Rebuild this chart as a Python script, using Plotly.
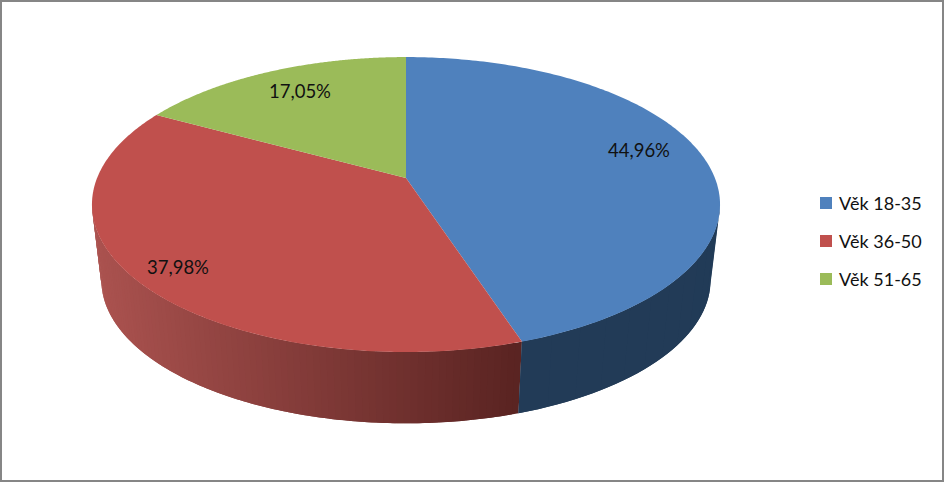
"""
plot.py - age share pie with a tilted 3D look, drawn on a pixel-sized plane with Plotly
"""

import numpy as np
import plotly.graph_objects as go

age_groups = ["Věk 18-35", "Věk 36-50", "Věk 51-65"]
shares = [44.96, 37.98, 17.05]
top_colors = ["#4f81bd", "#c0504d", "#9bbb59"]

WIDTH = 944
HEIGHT = 482
FONT = "Lato, Carlito, Calibri, sans-serif"

# projection of the pie disc, fitted to the picture
CX, CY = 406, 178
RX, RY = 308.9, 142.7
TILT = 0.18
LOWER_SCALE = 0.97
LOWER_CY = 254.5


def project(theta, radius=1.0, lower=False):
    """Map clockwise angle from 12 o'clock (radians) to screen x, y"""
    sx = np.sin(theta) * radius
    cy = np.cos(theta) * radius
    s = 1 / (1 + TILT * cy)
    x, y = RX * sx * s, -RY * cy * s
    if lower:
        return CX + LOWER_SCALE * x, LOWER_CY + LOWER_SCALE * y
    return CX + x, CY + y


def mix(c0, c1, t):
    a = np.array(c0)
    b = np.array(c1)
    r, g, bl = (a + (b - a) * t).astype(int)
    return f"rgb({r},{g},{bl})"


def add_wall(fig, start, stop, n, color_at):
    """Wall strip from start to stop, each piece overlaps the next to hide seams"""
    steps = np.linspace(start, stop, n + 1)
    # draw from the outer end towards the slice edge so the edge stays crisp
    for a0, a1 in zip(steps[:-1], steps[1:]):
        seg = np.linspace(a0, min(a1 + (steps[1] - steps[0]), stop), 4)
        xt, yt = project(seg)
        xb, yb = project(seg[::-1], lower=True)
        color = color_at((a0 + a1) / 2)
        fig.add_trace(go.Scatter(
            x=np.concatenate([xt, xb]), y=np.concatenate([yt, yb]),
            mode="none", fill="toself", fillcolor=color,
            hoverinfo="skip", showlegend=False))


fracs = np.array(shares) / sum(shares)
edges = np.concatenate([[0], np.cumsum(fracs)]) * 2 * np.pi
fig = go.Figure()

# outer wall of the disc, only the part facing the viewer
wall_start = np.arccos(-TILT)
wall_end = 2 * np.pi - wall_start
add_wall(fig, edges[1], wall_end, 90,
         lambda a: mix((170, 82, 79), (90, 36, 34), (project(a)[0] - 100) / 420))
add_wall(fig, wall_start, edges[1], 12,
         lambda a: mix((31, 58, 87), (35, 60, 88), a / edges[1]))

# top face
for i, name in enumerate(age_groups):
    arc = np.linspace(edges[i], edges[i + 1], 200)
    xs, ys = project(arc)
    fig.add_trace(go.Scatter(
        x=np.concatenate([[CX], xs, [CX]]), y=np.concatenate([[CY], ys, [CY]]),
        mode="none", fill="toself", fillcolor=top_colors[i],
        name=name, hoverinfo="name", showlegend=False))

# legend squares and texts, placed by hand since plotly keeps a wider symbol gap
legend_y = [203, 241, 279]
fig.add_trace(go.Scatter(
    x=[826] * len(age_groups), y=legend_y, mode="markers",
    marker=dict(symbol="square", size=12, color=top_colors, line_width=0),
    hoverinfo="skip", showlegend=False))
annotations = [
    dict(x=837, y=y, text=name, xanchor="left", showarrow=False,
         font=dict(family=FONT, size=18, color="#111111"))
    for y, name in zip(legend_y, age_groups)
]

label_pos = [(639, 150), (178, 267), (300, 91)]
annotations += [
    dict(x=x, y=y, text=f"{v:.2f}%".replace(".", ","), showarrow=False,
         font=dict(family=FONT, size=18.5, color="#111111"))
    for (x, y), v in zip(label_pos, shares)
]

fig.update_layout(
    width=WIDTH, height=HEIGHT,
    margin=dict(l=0, r=0, t=0, b=0),
    paper_bgcolor="white", plot_bgcolor="white",
    xaxis=dict(range=[0, WIDTH], visible=False, fixedrange=True),
    yaxis=dict(range=[HEIGHT, 0], visible=False, fixedrange=True),
    annotations=annotations,
    showlegend=False,
    shapes=[dict(type="rect", xref="paper", yref="paper", x0=0, y0=0, x1=1, y1=1,
                 line=dict(color="#868686", width=4))],
)

fig.write_html("out.html", config=dict(displayModeBar=False),
               post_script="document.body.style.margin='0';document.body.style.overflow='hidden';")
